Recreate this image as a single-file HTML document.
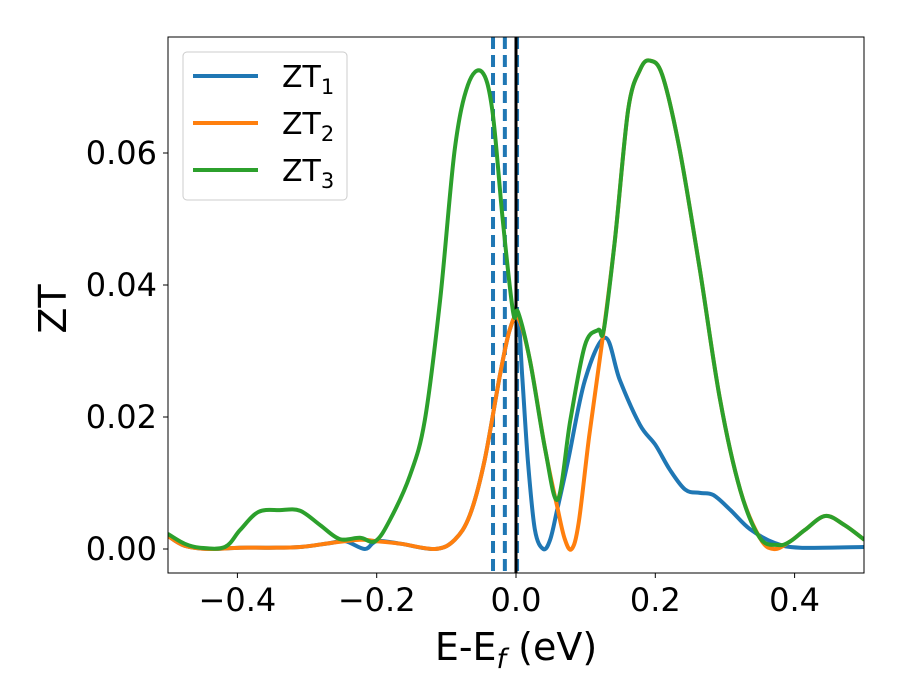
<!DOCTYPE html>
<html><head><meta charset="utf-8"><style>
body{margin:0;background:#fff}
svg{display:block;font-family:"DejaVu Sans","Liberation Sans",sans-serif}
</style></head><body>
<svg id="chart" width="900" height="700" xmlns="http://www.w3.org/2000/svg">
<rect width="900" height="700" fill="#fff"/>
<g id="plot"></g>
<rect x="168" y="37" width="696" height="536" fill="none" stroke="#000" stroke-width="1"/>
<g id="ticks"></g>
<text x="516" y="660" font-size="38" text-anchor="middle">E-E<tspan font-style="italic" font-size="27" dy="8">f</tspan><tspan dy="-8"> (eV)</tspan></text>
<text transform="translate(66,309) rotate(-90)" font-size="38" text-anchor="middle">ZT</text>
<g>
<rect x="183" y="52" width="164" height="148" rx="4" fill="#fff" fill-opacity="0.8" stroke="#ccc"/>
<line x1="193" y1="76" x2="258" y2="76" stroke="#1f77b4" stroke-width="4"/>
<text x="282" y="87" font-size="30">ZT<tspan font-size="21" dy="7">1</tspan></text>
<line x1="193" y1="123" x2="258" y2="123" stroke="#ff7f0e" stroke-width="4"/>
<text x="282" y="134" font-size="30">ZT<tspan font-size="21" dy="7">2</tspan></text>
<line x1="193" y1="170" x2="258" y2="170" stroke="#2ca02c" stroke-width="4"/>
<text x="282" y="181" font-size="30">ZT<tspan font-size="21" dy="7">3</tspan></text>
</g>
</svg>
<script>
const xTicks=[-0.4,-0.2,0.0,0.2,0.4];
const xTickLabels=["\u22120.4","\u22120.2","0.0","0.2","0.4"];
const yTicks=[0,0.02,0.04,0.06];
const yTickLabels=["0.00","0.02","0.04","0.06"];
const dashedX=[-0.033,-0.016,0.0015];
const fermiX=[0];
const zt1X=[-0.5,-0.476,-0.44,-0.397,-0.354,-0.31,-0.267,-0.245,-0.217,-0.2,-0.166,-0.116,-0.088,-0.066,-0.045,-0.023,-0.009,0.003,0.009,0.017,0.027,0.039,0.049,0.059,0.075,0.099,0.128,0.149,0.178,0.2,0.221,0.243,0.264,0.283,0.307,0.336,0.372,0.408,0.5];
const zt1Y=[0.002,0.0005,0,0.0002,0.0002,0.0003,0.0009,0.0012,0.0,0.0012,0.0008,0,0.0014,0.0052,0.0135,0.0264,0.0332,0.035,0.026,0.0135,0.003,0,0.0014,0.0059,0.0135,0.0256,0.032,0.0256,0.0188,0.0158,0.012,0.009,0.0085,0.0082,0.006,0.003,0.0009,0.0002,0.0003];
const zt2X=[-0.5,-0.476,-0.44,-0.397,-0.354,-0.31,-0.267,-0.224,-0.202,-0.166,-0.116,-0.088,-0.066,-0.045,-0.023,-0.009,0.003,0.02,0.042,0.059,0.07,0.08,0.09,0.105,0.126,0.142,0.161,0.178,0.192,0.21,0.235,0.264,0.293,0.322,0.35,0.37,0.393,0.415,0.444,0.472,0.5];
const zt2Y=[0.002,0.0005,0,0.0002,0.0002,0.0003,0.0009,0.0014,0.0012,0.0008,0,0.0014,0.0052,0.0135,0.0264,0.0332,0.035,0.0286,0.015,0.0065,0.0015,0,0.004,0.017,0.0332,0.0468,0.0665,0.0726,0.074,0.0718,0.0605,0.0423,0.0226,0.0089,0.0017,0.0,0.0011,0.0029,0.005,0.0036,0.0014];
const zt3X=[-0.5,-0.476,-0.454,-0.418,-0.396,-0.37,-0.339,-0.31,-0.281,-0.253,-0.224,-0.202,-0.181,-0.152,-0.131,-0.109,-0.088,-0.069,-0.049,-0.034,-0.019,-0.004,0.003,0.02,0.042,0.06,0.078,0.099,0.118,0.126,0.142,0.161,0.178,0.192,0.21,0.235,0.264,0.293,0.322,0.35,0.376,0.393,0.415,0.444,0.472,0.5];
const zt3Y=[0.0023,0.0008,0.0002,0.0003,0.0029,0.0056,0.0059,0.0058,0.0036,0.0015,0.0017,0.0012,0.0044,0.0112,0.0195,0.0377,0.0605,0.0703,0.0723,0.0665,0.0498,0.0358,0.0359,0.0286,0.015,0.0075,0.0195,0.0309,0.0332,0.0332,0.0468,0.0665,0.0726,0.074,0.0718,0.0605,0.0423,0.0226,0.0089,0.0017,0.0006,0.0011,0.0029,0.005,0.0036,0.0014];
const NS="http://www.w3.org/2000/svg";
function sx(v){return 516+v*696.5;}
function sy(v){return 549-v*6600;}
function mk(tag,attrs,parent){const e=document.createElementNS(NS,tag);for(const k in attrs)e.setAttribute(k,attrs[k]);parent.appendChild(e);return e;}
function smooth(xs,ys){const p=xs.map((x,i)=>[sx(x),sy(ys[i])]);let d="M"+p[0][0]+","+p[0][1];
for(let i=0;i<p.length-1;i++){const p0=p[Math.max(0,i-1)],p1=p[i],p2=p[i+1],p3=p[Math.min(p.length-1,i+2)];
const c1=[p1[0]+(p2[0]-p0[0])/6,p1[1]+(p2[1]-p0[1])/6],c2=[p2[0]-(p3[0]-p1[0])/6,p2[1]-(p3[1]-p1[1])/6];
d+=" C"+c1[0].toFixed(1)+","+c1[1].toFixed(1)+" "+c2[0].toFixed(1)+","+c2[1].toFixed(1)+" "+p2[0].toFixed(1)+","+p2[1].toFixed(1);}return d;}
const plot=document.getElementById("plot");
const defs=mk("defs",{},plot);
const cp=mk("clipPath",{id:"clip"},defs);mk("rect",{x:168,y:37,width:696,height:536},cp);
const g=mk("g",{"clip-path":"url(#clip)"},plot);
dashedX.forEach((v,i)=>{const l=mk("line",{x1:sx(v),x2:sx(v),y1:37,y2:573,stroke:"#1f77b4","stroke-width":4,"stroke-dasharray":"12,6"},g);

});
fermiX.forEach(v=>{const l=mk("line",{x1:sx(v),x2:sx(v),y1:37,y2:573,stroke:"#000","stroke-width":3},g);

});
const series=[[zt1X,zt1Y,"#1f77b4","zt1"],[zt2X,zt2Y,"#ff7f0e","zt2"],[zt3X,zt3Y,"#2ca02c","zt3"]];
series.forEach(s=>{const p=mk("path",{d:smooth(s[0],s[1]),fill:"none",stroke:s[2],"stroke-width":4,"stroke-linejoin":"round"},g);

});
const t=document.getElementById("ticks");
xTicks.forEach((v,i)=>{const l=mk("line",{x1:sx(v),x2:sx(v),y1:573,y2:578,stroke:"#000"},t);


const tx=mk("text",{x:sx(v),y:611,"font-size":32,"text-anchor":"middle"},t);tx.textContent=xTickLabels[i];

});
yTicks.forEach((v,i)=>{const l=mk("line",{x1:163,x2:168,y1:sy(v),y2:sy(v),stroke:"#000"},t);


const tx=mk("text",{x:157,y:sy(v)+11,"font-size":32,"text-anchor":"end"},t);tx.textContent=yTickLabels[i];

});
</script>
</body></html>
